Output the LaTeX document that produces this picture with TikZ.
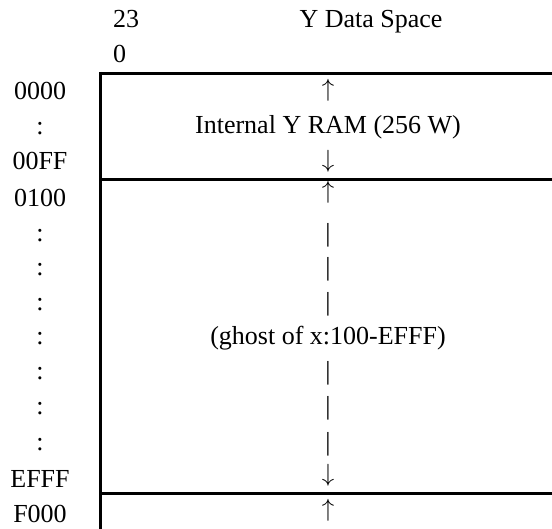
\documentclass[tikz,border=0pt]{standalone}
\usepackage{fontspec}
\setmainfont{Liberation Serif}

\begin{document}
\begin{tikzpicture}[x=1pt,y=-1pt,
    lbl/.style={anchor=base,inner sep=0pt,font=\fontsize{26}{31}\selectfont},
    arr/.style={anchor=center,inner sep=0pt,font=\fontsize{23}{28}\selectfont},
    memline/.style={line width=3pt}]
  \useasboundingbox (0,0) rectangle (552,529);
  \clip (0,0) rectangle (552,529);
  % header
  \node[lbl,anchor=base west] (bhi) at (113,28) {23};
  \node[lbl,anchor=base west] (blo) at (113,63) {0};
  \node[lbl] (title) at (371,28) {Y Data Space};
  % memory box edges
  \draw[memline] (100.5,73.5) -- (560,73.5);
  \draw[memline] (100.5,72) -- (100.5,540);
  \draw[memline] (100.5,179.5) -- (560,179.5);
  \draw[memline] (100.5,493.5) -- (560,493.5);
  % addresses
  \node[lbl] (a0000) at (40,100) {0000};
  \node[lbl] (ac1) at (40,135) {:};
  \node[lbl] (a00FF) at (40,170) {00FF};
  \node[lbl] (a0100) at (40,207) {0100};
  \node[lbl] (ac2) at (40,242) {:};
  \node[lbl] (ac3) at (40,276) {:};
  \node[lbl] (ac4) at (40,311) {:};
  \node[lbl] (ac5) at (40,345) {:};
  \node[lbl] (ac6) at (40,380) {:};
  \node[lbl] (ac7) at (40,414) {:};
  \node[lbl] (ac8) at (40,450) {:};
  \node[lbl] (aEFFF) at (40,487) {EFFF};
  \node[lbl] (aF000) at (40,522) {F000};
  % internal RAM
  \node[arr] (ramup) at (328,90) {$\uparrow$};
  \node[lbl] (ram) at (328,134) {Internal Y RAM (256 W)};
  \node[arr] (ramdn) at (328,161) {$\downarrow$};
  % ghost region
  \node[arr] (gup) at (328,192) {$\uparrow$};
  \node[lbl] (gb1) at (328,242) {|};
  \node[lbl] (gb2) at (328,276) {|};
  \node[lbl] (gb3) at (328,311) {|};
  \node[lbl] (ghost) at (328,345) {(ghost of x:100-EFFF)};
  \node[lbl] (gb4) at (328,380) {|};
  \node[lbl] (gb5) at (328,414) {|};
  \node[lbl] (gb6) at (328,450) {|};
  \node[arr] (gdn) at (328,475) {$\downarrow$};
  % top of next region
  \node[arr] (hiup) at (328,510) {$\uparrow$};
\end{tikzpicture}
\end{document}
